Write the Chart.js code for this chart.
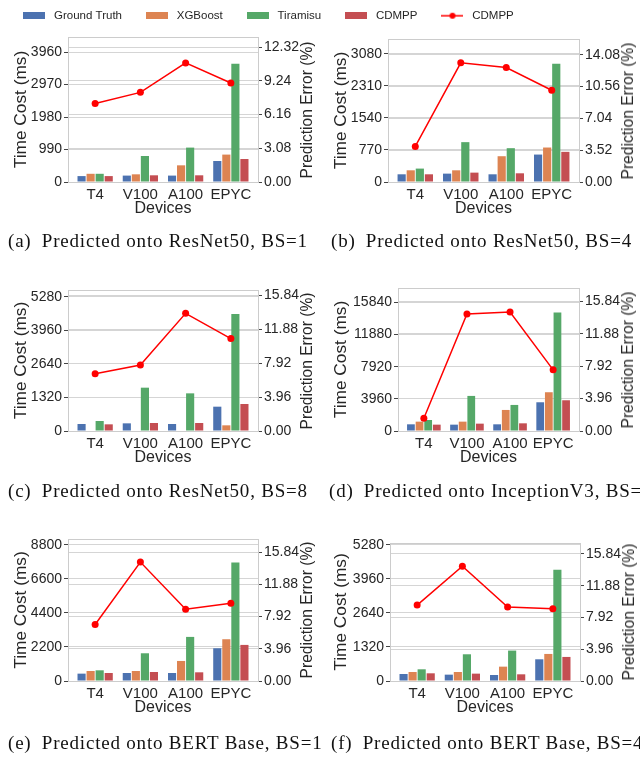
<!DOCTYPE html>
<html>
<head>
<meta charset="utf-8">
<script src="https://cdn.jsdelivr.net/npm/chart.js@4.4.1/dist/chart.umd.min.js"></script>
<style>
  html, body { margin: 0; padding: 0; background: #fff; }
  body { position: relative; width: 640px; height: 759px; overflow: hidden; }
  canvas { position: absolute; }
  .ylab2 { position: absolute; font: 15.6px "Liberation Sans", Arial, sans-serif; color: #262626; white-space: nowrap; transform: translate(-50%, -50%) rotate(-90deg); }
  .caption { position: absolute; font: 19px "Liberation Serif", "DejaVu Serif", serif; letter-spacing: 0.8px; color: #111; white-space: nowrap; line-height: 20px; }
</style>
</head>
<body>
<canvas id="legend" width="640" height="60" style="left:-53px;top:-11px"></canvas>
<script>
const devices = ['T4', 'V100', 'A100', 'EPYC'];
const seriesNames = ['Ground Truth', 'XGBoost', 'Tiramisu', 'CDMPP'];
const lineName = 'CDMPP';
const captions = [
  '(a)\u2002Predicted onto ResNet50, BS=1',
  '(b)\u2002Predicted onto ResNet50, BS=4',
  '(c)\u2002Predicted onto ResNet50, BS=8',
  '(d)\u2002Predicted onto InceptionV3, BS=1',
  '(e)\u2002Predicted onto BERT Base, BS=1',
  '(f)\u2002Predicted onto BERT Base, BS=4'
];

// time cost (ms), one row per panel, columns follow devices
const groundTruth = [
  [180, 195, 195, 640],
  [185, 201, 185, 659],
  [275, 301, 275, 956],
  [823, 782, 823, 3538],
  [475, 518, 518, 2114],
  [272, 246, 233, 841]
];
const xgboost = [
  [250, 234, 508, 835],
  [281, 281, 619, 828],
  [null, null, null, 223],
  [1152, 1152, 2592, 4773],
  [647, 647, 1294, 2696],
  [349, 349, 556, 1048]
];
const tiramisu = [
  [250, 792, 1048, 3605],
  [322, 957, 812, 2839],
  [393, 1703, 1480, 4599],
  [1358, 4320, 3209, 14606],
  [690, 1790, 2847, 7657],
  [453, 1035, 1178, 4309]
];
const cdmppTime = [
  [180, 204, 204, 700],
  [185, 225, 209, 724],
  [262, 314, 314, 1061],
  [782, 905, 946, 3785],
  [518, 582, 561, 2330],
  [298, 285, 259, 932]
];
// prediction error (%) of CDMPP
const cdmppError = [
  [7.18, 8.19, 10.88, 9.05],
  [3.93, 13.19, 12.67, 10.15],
  [6.71, 7.72, 13.77, 10.81],
  [1.55, 14.29, 14.53, 7.47],
  [6.94, 14.61, 8.82, 9.56],
  [9.46, 14.30, 9.21, 9.00]
];

const timeTicks = [
  [0, 990, 1980, 2970, 3960],
  [0, 770, 1540, 2310, 3080],
  [0, 1320, 2640, 3960, 5280],
  [0, 3960, 7920, 11880, 15840],
  [0, 2200, 4400, 6600, 8800],
  [0, 1320, 2640, 3960, 5280]
];
const errorTicks = [
  [0, 3.08, 6.16, 9.24, 12.32],
  [0, 3.52, 7.04, 10.56, 14.08],
  [0, 3.96, 7.92, 11.88, 15.84],
  [0, 3.96, 7.92, 11.88, 15.84],
  [0, 3.96, 7.92, 11.88, 15.84],
  [0, 3.96, 7.92, 11.88, 15.84]
];
const timeMax = [4417, 3434, 5542, 17609, 9167, 5345];
const errorMax = [13.25, 15.82, 16.5, 17.47, 17.44, 17.2];

const colors = ['#4C72B0', '#DD8452', '#55A868', '#C44E52'];
const lineColor = '#FF0000';
const textColor = '#262626';
const gridColor = '#D5D5D5';
const frameColor = '#CCCCCC';
const family = '"Liberation Sans", Arial, sans-serif';

// plot area of each panel in page pixels
const boxes = [
  {left: 0,   top: 24,  L: 68,  R: 258, T: 37,  B: 182},
  {left: 320, top: 24,  L: 388, R: 579, T: 39,  B: 182},
  {left: 0,   top: 274, L: 68,  R: 258, T: 290, B: 431},
  {left: 320, top: 274, L: 398, R: 579, T: 288, B: 431},
  {left: 0,   top: 524, L: 68,  R: 258, T: 539, B: 681},
  {left: 320, top: 524, L: 390, R: 580, T: 543, B: 681}
];
const captionPos = [[8, 241], [331, 241], [8, 491], [329, 491], [8, 743], [331, 743]];
const timeSeries = [groundTruth, xgboost, tiramisu, cdmppTime];
const xMin = -0.6, xMax = 3.6;

// legend swatches: bars as flat boxes, the line with its dot
function swatch(i) {
  const c = document.createElement('canvas');
  c.width = 22; c.height = 8;
  const g = c.getContext('2d');
  if (i < 4) {
    g.fillStyle = colors[i];
    g.fillRect(0, 0, 22, 8);
  } else {
    g.strokeStyle = lineColor; g.lineWidth = 1.5;
    g.beginPath(); g.moveTo(0, 4); g.lineTo(22, 4); g.stroke();
    g.fillStyle = lineColor;
    g.beginPath(); g.arc(11, 4, 3, 0, Math.PI * 2); g.fill();
  }
  return c;
}
const swatches = [0, 1, 2, 3, 4].map(swatch);

// shared legend, a chart of its own with hidden axes
new Chart(document.getElementById('legend'), {
  type: 'bar',
  data: {
    labels: [''],
    datasets: seriesNames.map((n, s) => ({label: n, data: [0], backgroundColor: colors[s], pointStyle: swatches[s]}))
      .concat([{type: 'line', label: lineName, data: [null], borderColor: lineColor, pointStyle: swatches[4]}])
  },
  options: {
    responsive: false,
    animation: false,
    devicePixelRatio: 1,
    scales: {x: {display: false}, y: {display: false}},
    plugins: {
      tooltip: {enabled: false},
      legend: {
        position: 'top',
        labels: {
          usePointStyle: true,
          pointStyleWidth: 28,
          boxHeight: 8,
          padding: 21,
          color: textColor,
          font: {family, size: 11.5}
        }
      }
    }
  }
});

boxes.forEach((b, k) => {
  const h = b.B - b.top + 40;
  const cv = document.createElement('canvas');
  cv.width = 320; cv.height = h;
  cv.style.left = b.left + 'px';
  cv.style.top = b.top + 'px';
  document.body.appendChild(cv);

  const datasets = seriesNames.map((name, s) => ({
    type: 'bar',
    label: name,
    data: timeSeries[s][k].map((v, i) => ({x: i, y: v})),
    backgroundColor: colors[s],
    borderWidth: 0,
    yAxisID: 'y',
    order: 1,
    categoryPercentage: 0.8,
    barPercentage: 0.9
  }));
  datasets.push({
    type: 'line',
    label: lineName,
    data: cdmppError[k].map((v, i) => ({x: i, y: v})),
    yAxisID: 'y1',
    borderColor: lineColor,
    backgroundColor: lineColor,
    borderWidth: 1.5,
    pointRadius: 3.5,
    pointBorderWidth: 0,
    order: 0
  });

  new Chart(cv, {
    type: 'bar',
    data: {datasets},
    options: {
      responsive: false,
      animation: false,
      devicePixelRatio: 1,
      layout: {padding: {top: b.T - b.top, left: 0, right: 0, bottom: 0}},
      plugins: {legend: {display: false}, tooltip: {enabled: false}},
      scales: {
        x: {
          type: 'linear', position: 'bottom', min: xMin, max: xMax, offset: false,
          afterBuildTicks: (s) => { s.ticks = devices.map((d, i) => ({value: i})); },
          afterFit: (s) => { s.height = h - (b.B - b.top); },
          grid: {display: false, drawTicks: false},
          border: {color: frameColor},
          ticks: {callback: (v) => devices[v], color: textColor, font: {family, size: 15},
                  padding: 4, autoSkip: false, maxRotation: 0},
          title: {display: true, text: 'Devices', color: textColor, font: {family, size: 16},
                  padding: {top: 0, bottom: 4}}
        },
        xTop: {
          type: 'linear', position: 'top', min: xMin, max: xMax,
          afterFit: (s) => { s.height = 0; },
          grid: {display: false, drawTicks: false},
          border: {color: frameColor},
          ticks: {display: false}
        },
        y: {
          position: 'left', min: 0, max: timeMax[k],
          afterBuildTicks: (s) => { s.ticks = timeTicks[k].map((v) => ({value: v})); },
          afterFit: (s) => { s.width = b.L - b.left; },
          grid: {color: gridColor, tickColor: '#444', tickLength: 4},
          border: {color: frameColor},
          ticks: {callback: (v) => String(v), color: textColor, font: {family, size: 14}, padding: 2},
          title: {display: true, text: 'Time Cost (ms)', color: textColor, font: {family, size: 17.3},
                  padding: {top: 10.6, bottom: 0}}
        },
        y1: {
          position: 'right', min: 0, max: errorMax[k],
          afterBuildTicks: (s) => { s.ticks = errorTicks[k].map((v) => ({value: v})); },
          afterFit: (s) => { s.width = b.left + 320 - b.R; },
          grid: {color: gridColor, tickColor: '#444', tickLength: 4},
          border: {color: frameColor},
          ticks: {callback: (v) => v.toFixed(2), color: textColor, font: {family, size: 14}, padding: 2}
        }
      }
    }
  });

  // right axis title reads bottom to top, as in the source figure
  const t = document.createElement('div');
  t.className = 'ylab2';
  t.textContent = 'Prediction Error (%)';
  t.style.left = (b.R + 49) + 'px';
  t.style.top = ((b.T + b.B) / 2) + 'px';
  document.body.appendChild(t);

  const c = document.createElement('div');
  c.className = 'caption';
  c.textContent = captions[k];
  c.style.left = captionPos[k][0] + 'px';
  c.style.top = (captionPos[k][1] - 10) + 'px';
  document.body.appendChild(c);
});
</script>
</body>
</html>
